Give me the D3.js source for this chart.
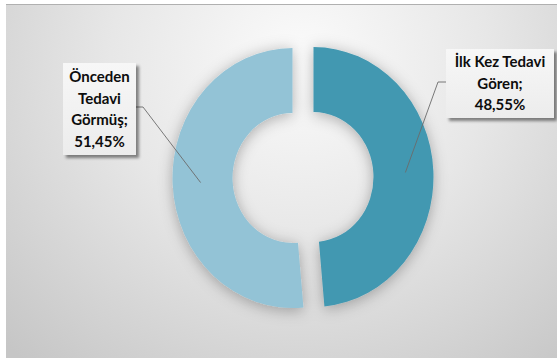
<!DOCTYPE html>
<html><head><meta charset="utf-8">
<script src="https://cdn.jsdelivr.net/npm/d3@7"></script>
<style>html,body{margin:0;padding:0;background:#fff;}svg{display:block;}</style>
</head><body>
<script>
const categories = ["İlk Kez Tedavi Gören", "Önceden Tedavi Görmüş"];
const values = [48.55, 51.45];
const labelLines = [["İlk Kez Tedavi", "Gören;", "48,55%"], ["Önceden", "Tedavi", "Görmüş;", "51,45%"]];
const colors = ["#4398b1", "#93c3d6"];

const W = 557, H = 362;
const svg = d3.select("body").append("svg").attr("width", W).attr("height", H);
const defs = svg.append("defs");

const bg = defs.append("radialGradient").attr("id", "bg")
  .attr("gradientUnits", "userSpaceOnUse").attr("cx", 300).attr("cy", 60).attr("r", 420)
  .attr("gradientTransform", "translate(300,60) scale(1,0.95) translate(-300,-60)");
bg.append("stop").attr("offset", "0").attr("stop-color", "#fbfbfb");
bg.append("stop").attr("offset", "0.45").attr("stop-color", "#e7e7e7");
bg.append("stop").attr("offset", "1").attr("stop-color", "#c6c6c6");

const sh = defs.append("filter").attr("id", "halo").attr("x", "-30%").attr("y", "-30%").attr("width", "160%").attr("height", "160%");
sh.append("feDropShadow").attr("dx", 0).attr("dy", 2).attr("stdDeviation", 7).attr("flood-color", "#000").attr("flood-opacity", 0.3);

const bsh = defs.append("filter").attr("id", "boxsh").attr("x", "-20%").attr("y", "-20%").attr("width", "150%").attr("height", "150%");
bsh.append("feDropShadow").attr("dx", 3).attr("dy", 3).attr("stdDeviation", 1.8).attr("flood-color", "#000").attr("flood-opacity", 0.45);

const boxg = defs.append("linearGradient").attr("id", "boxg").attr("x1", 0).attr("y1", 0).attr("x2", 0).attr("y2", 1);
boxg.append("stop").attr("offset", 0).attr("stop-color", "#f7f7f7");
boxg.append("stop").attr("offset", 1).attr("stop-color", "#ececec");

// panel
svg.append("rect").attr("x", 6).attr("y", 4).attr("width", W - 6).attr("height", 354).attr("fill", "url(#bg)");
svg.append("line").attr("x1", 6).attr("x2", W).attr("y1", 4.5).attr("y2", 4.5).attr("stroke", "#b0b0b0").attr("stroke-width", 1);

const cx = 303, cy = 177.5, sy = 1.083, R = 120, r = 60, explode = 10.5;
const pie = d3.pie().sort(null).value(d => d).startAngle(0).endAngle(2 * Math.PI);
const arcs = pie(values);
const arc = d3.arc().innerRadius(r).outerRadius(R);

const g = svg.append("g").attr("transform", `translate(${cx},${cy}) scale(1,${sy})`).attr("filter", "url(#halo)");
g.selectAll("path").data(arcs).join("path")
  .attr("d", arc)
  .attr("fill", (d, i) => colors[i])
  .attr("transform", d => {
    const m = (d.startAngle + d.endAngle) / 2;
    return `translate(${explode * Math.sin(m)},${-explode * Math.cos(m)})`;
  });

// labels
const boxes = [
  {x: 446, y: 49, w: 108, h: 69, tx: 500, ty: 67, edge: [446, 82], elbow: [438, 82]},
  {x: 63, y: 63, w: 73, h: 92, tx: 99.5, ty: 82, edge: [136, 107], elbow: [143, 107]}
];
const lineH = 21.6;
arcs.forEach((d, i) => {
  const m = (d.startAngle + d.endAngle) / 2;
  const rr = 92;
  const px = cx + explode * Math.sin(m) + rr * Math.sin(m);
  const py = cy + sy * (-explode * Math.cos(m) - rr * Math.cos(m));
  const b = boxes[i];
  svg.append("polyline")
    .attr("points", [[px, py], b.elbow, b.edge].map(p => p.join(",")).join(" "))
    .attr("fill", "none").attr("stroke", "#6b6b6b").attr("stroke-width", 0.9);
  svg.append("rect").attr("x", b.x).attr("y", b.y).attr("width", b.w).attr("height", b.h)
    .attr("fill", "url(#boxg)").attr("filter", "url(#boxsh)");
  const t = svg.append("text").attr("text-anchor", "middle")
    .attr("font-family", "Lato, 'Open Sans', sans-serif").attr("font-weight", "bold")
    .attr("font-size", 15).attr("fill", "#0d0d0d");
  labelLines[i].forEach((s, k) => {
    t.append("tspan").attr("x", b.tx).attr("y", b.ty + k * lineH).text(s);
  });
});
</script>
</body></html>
